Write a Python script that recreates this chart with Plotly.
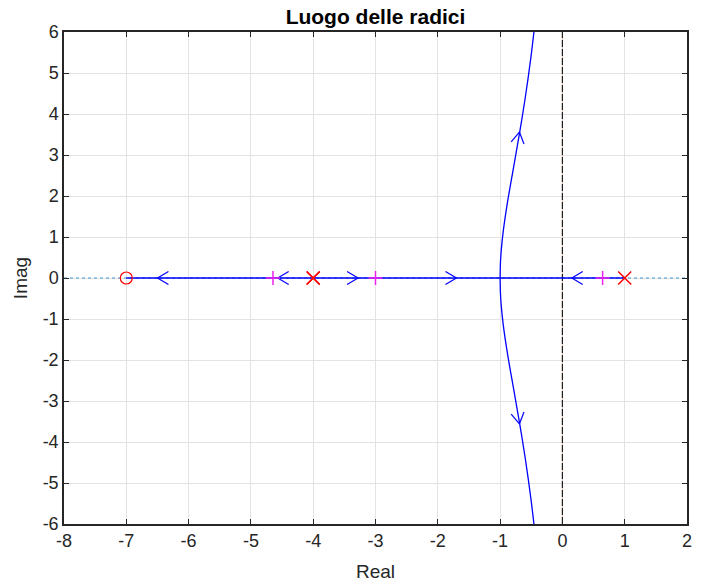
import numpy as np
import plotly.graph_objects as go

# ---- data ----
poles_x = [-4.0, -4.0, 1.0]
poles_y = [0.0, 0.0, 0.0]
zeros_x = [-7.0]
zeros_y = [0.0]
# closed-loop poles marked (K = 1)
cl_x = [-4.6458, -3.0, 0.6458]
cl_y = [0.0, 0.0, 0.0]
# real-axis part of the locus
real_seg_x = [-7.0, 1.0]
real_seg_y = [0.0, 0.0]
# upper complex branch
branch_sigma = [-1.0, -0.995, -0.99, -0.98, -0.95, -0.9, -0.85, -0.8, -0.75, -0.7,
                -0.65, -0.6, -0.55, -0.5, -0.45]
branch_omega = [0.0, 0.348, 0.493, 0.703, 1.137, 1.67, 2.13, 2.56, 2.99, 3.43,
                3.88, 4.36, 4.88, 5.45, 6.09]
# arrows on the locus: position and direction of increasing gain
arrow_x = [-6.5, -4.57, -3.28, -1.70, 0.15, -0.69, -0.69]
arrow_y = [0.0, 0.0, 0.0, 0.0, 0.0, 3.56, -3.56]
arrow_dx = [-1, -1, 1, 1, -1, 0.05, 0.05]
arrow_dy = [0, 0, 0, 0, 0, 0.45, -0.45]
asym_x = [0.0, 0.0]
asym_y = [-6.0, 6.0]
x_ticks = list(range(-8, 3))
y_ticks = list(range(-6, 7))

xr = [-8, 2]
yr = [-6, 6]

L, T, R, B = 64, 32, 14, 60
W, H = 701, 584
pw, ph = W - L - R, H - T - B
sx = pw / (xr[1] - xr[0])
sy = ph / (yr[1] - yr[0])

FONT = "Liberation Sans, Arial, sans-serif"
blue = "#0000FF"
red = "#ff0000"
mag = "#ee22ee"
fig = go.Figure()

# dotted real axis
fig.add_trace(go.Scatter(x=xr, y=[0, 0], mode="lines",
                         line=dict(color="#3f95d6", width=1, dash="dot"),
                         hoverinfo="skip", showlegend=False))
# asymptote / imaginary axis
fig.add_trace(go.Scatter(x=asym_x, y=asym_y, mode="lines",
                         line=dict(color="rgba(235,150,110,0.5)", width=1),
                         hoverinfo="skip", showlegend=False))
fig.add_trace(go.Scatter(x=asym_x, y=asym_y, mode="lines",
                         line=dict(color="#202020", width=1.2, dash="7px,2px"),
                         hoverinfo="skip", showlegend=False))

# locus
fig.add_trace(go.Scatter(x=real_seg_x, y=real_seg_y, mode="lines",
                         line=dict(color=blue, width=1.3), showlegend=False))
fig.add_trace(go.Scatter(x=branch_sigma, y=branch_omega, mode="lines",
                         line=dict(color=blue, width=1.3, shape="spline"), showlegend=False))
fig.add_trace(go.Scatter(x=branch_sigma, y=[-w for w in branch_omega], mode="lines",
                         line=dict(color=blue, width=1.3, shape="spline"), showlegend=False))

# arrows (open chevrons)
al, aw = 11.0, 6.5
ax_all, ay_all = [], []
for x0, y0, dx, dy in zip(arrow_x, arrow_y, arrow_dx, arrow_dy):
    ux, uy = dx * sx, dy * sy
    n = np.hypot(ux, uy)
    ux, uy = ux / n, uy / n
    px, py = -uy, ux
    for s in (1, -1):
        bx = -al * ux + s * aw * px
        by = -al * uy + s * aw * py
        ax_all += [x0 + bx / sx, x0, None]
        ay_all += [y0 + by / sy, y0, None]
fig.add_trace(go.Scatter(x=ax_all, y=ay_all, mode="lines",
                         line=dict(color=blue, width=1.2), hoverinfo="skip", showlegend=False))

# closed-loop poles
fig.add_trace(go.Scatter(x=cl_x, y=cl_y, mode="markers",
                         marker=dict(symbol="cross-thin-open", size=10, color=mag,
                                     line=dict(color=mag, width=1.5)),
                         showlegend=False))
# zeros and poles
fig.add_trace(go.Scatter(x=zeros_x, y=zeros_y, mode="markers",
                         marker=dict(symbol="circle-open", size=12, color=red,
                                     line=dict(color=red, width=1.2)),
                         showlegend=False))
fig.add_trace(go.Scatter(x=poles_x, y=poles_y, mode="markers",
                         marker=dict(symbol="x-thin-open", size=13, color=red,
                                     line=dict(color=red, width=1.5)),
                         showlegend=False))

axis_common = dict(showgrid=True, gridcolor="#e3e3e3", gridwidth=1, automargin=False,
                   zeroline=False, showline=True, linecolor="#262626", linewidth=1.5,
                   mirror="ticks", ticks="inside", ticklen=5, tickcolor="#262626",
                   tickfont=dict(family=FONT, size=18, color="#262626"))

fig.update_layout(
    width=W, height=H,
    margin=dict(l=L, r=R, t=T, b=B, autoexpand=False),
    plot_bgcolor="white", paper_bgcolor="white",
    title=dict(text="<b>Luogo delle radici</b>", x=(L + pw / 2) / W, xanchor="center",
               y=1 - 17 / H, yanchor="middle",
               font=dict(family=FONT, size=21, color="black")),
    xaxis=dict(range=xr, tickvals=x_ticks, ticktext=[str(v) for v in x_ticks],
               title=dict(text="Real", standoff=14,
                          font=dict(family=FONT, size=19, color="#262626")),
               **axis_common),
    yaxis=dict(range=yr, tickvals=y_ticks, ticktext=[str(v) for v in y_ticks],
               title=dict(text="Imag", standoff=10,
                          font=dict(family=FONT, size=19, color="#262626")),
               **axis_common),
)

fig.write_html("out.html")
